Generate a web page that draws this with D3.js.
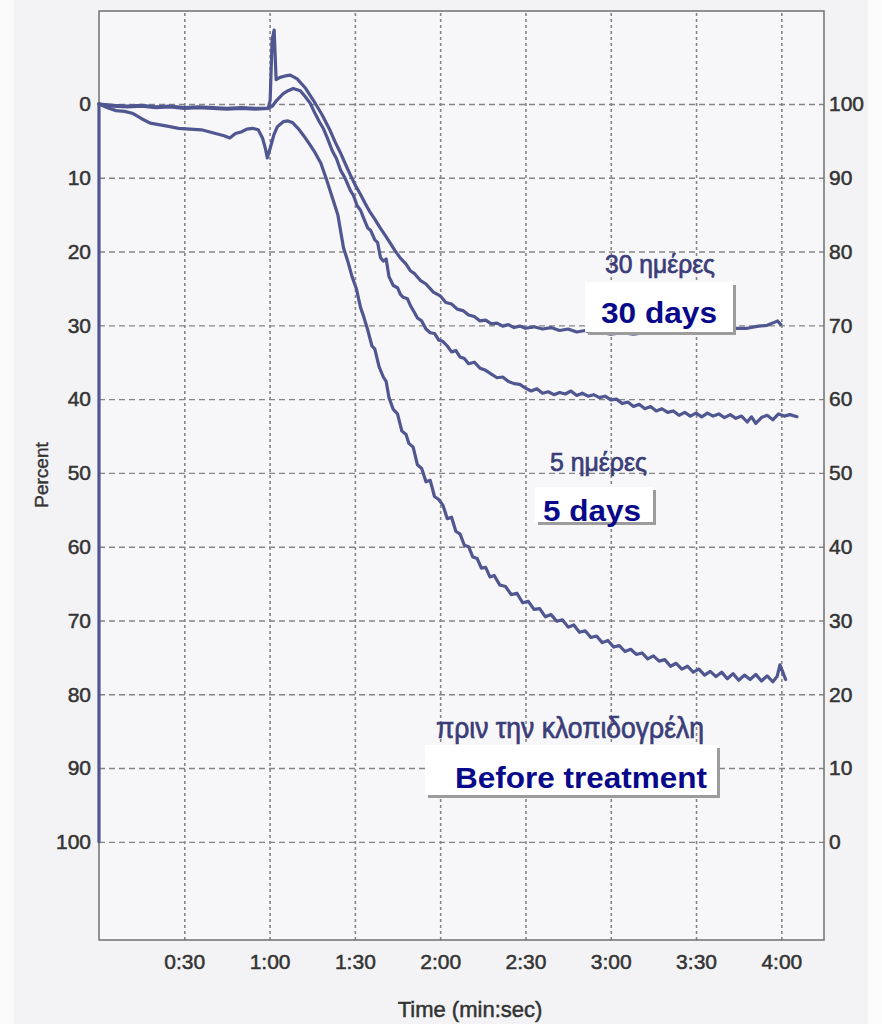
<!DOCTYPE html>
<html>
<head>
<meta charset="utf-8">
<script src="https://cdn.jsdelivr.net/npm/d3@7"></script>
<style>
  html, body { margin: 0; padding: 0; background: #f3f3f5; }
  svg { display: block; }
</style>
</head>
<body>
<svg id="chart" width="882" height="1024"></svg>
<script>
// Time ticks (seconds) and their labels
const timeTicks = [30, 60, 90, 120, 150, 180, 210, 240];
const timeTickLabels = ["0:30", "1:00", "1:30", "2:00", "2:30", "3:00", "3:30", "4:00"];
// Percent ticks (left axis) — right axis shows 100 minus these
const percentTicks = [0, 10, 20, 30, 40, 50, 60, 70, 80, 90, 100];

// Calibration stroke at start of recording: [seconds, percent]
const calibration = [[0, 0], [0, 100]];

// 30 days after treatment: [seconds, percent]
const days30 = [[0,0],[5,0.3],[10,0.4],[15,0.3],[20,0.5],[25,0.4],[30,0.6],[35,0.5],[40,0.6],[45,0.7],[50,0.6],[55,0.7],[59.5,0.6],[60.2,-0.5],[60.9,-8.7],[61.6,-10.0],[62.3,-3.3],[63.7,-3.6],[65.5,-3.8],[67.3,-3.9],[69.7,-3.4],[72.5,-2.2],[75.4,-0.5],[78.5,1.5],[81.3,3.6],[83,5.1],[84.9,6.6],[86.5,8.0],[88.4,9.6],[90,10.9],[91.9,12.2],[93.5,13.4],[95.4,14.7],[97,15.6],[98.9,16.8],[100.5,17.7],[102.5,18.9],[104,19.8],[106,20.9],[108,21.7],[109.5,22.6],[111,23.0],[113,23.9],[115,24.4],[117.6,25.5],[120,26.0],[122,26.9],[124,27.1],[126,27.8],[128,28.0],[130,28.6],[132,28.8],[134,29.4],[136,29.3],[138,29.8],[140,29.7],[142,30.1],[144,29.9],[146,30.3],[148,30.1],[150,30.4],[153,30.2],[156,30.5],[159,30.3],[162,30.7],[165,30.5],[168,30.9],[171,30.7],[174,31.1],[177,31.0],[180,31.2],[184,31.0],[188,31.2],[192,31.0],[196,31.1],[200,30.9],[204,31.1],[208,30.8],[212,30.9],[216,30.6],[220,30.7],[224,30.4],[228,30.4],[232,30.1],[235,30.0],[237.5,29.6],[238.7,29.4],[239.8,29.9]];

// 5 days after treatment: [seconds, percent]
const days5 = [[0,0],[5,0.2],[10,0.3],[15,0.2],[20,0.4],[25,0.3],[30,0.5],[35,0.4],[40,0.5],[45,0.6],[50,0.5],[55,0.6],[59.5,0.6],[61,0.3],[62.5,-0.5],[64.8,-1.4],[66.5,-1.8],[68.3,-2.1],[70.8,-1.8],[72.5,-1.0],[74.3,-0.1],[76,1.3],[77.5,2.4],[79,3.4],[80.3,4.6],[82,6.3],[83.5,7.4],[85,9.0],[86.5,10.0],[88.4,11.7],[89.5,12.4],[90.8,13.8],[92,14.4],[93,15.4],[94.5,16.8],[95.5,17.1],[97,18.4],[98,18.8],[99,20.8],[100,21.3],[101,21.0],[102,23.4],[103.5,24.6],[105,24.9],[106,25.8],[107,26.2],[108.5,26.4],[109.5,27.3],[111,28.3],[112,29.0],[113.5,29.4],[115,30.5],[116.5,31.0],[118,31.1],[119.5,32.0],[121,32.2],[122.5,32.8],[124,33.6],[125.5,33.4],[127,34.3],[128.5,34.5],[130,35.2],[132,35.0],[134,35.8],[136,36.1],[138,36.6],[140,37.1],[142,37.0],[144,37.6],[146,37.9],[148,38.0],[150,38.5],[152,38.9],[154,38.6],[156,39.2],[158,39.0],[160,39.4],[162,39.1],[164,39.3],[166,38.9],[168,39.5],[170,39.2],[172,39.6],[174,39.4],[176,39.8],[178,39.6],[180,40.1],[182,40.0],[184,40.6],[186,40.4],[188,41.0],[190,40.7],[192,41.3],[194,41.0],[196,41.6],[198,41.3],[200,41.8],[202,41.6],[204,42.2],[206,41.8],[208,42.3],[210,41.9],[212,42.4],[214,41.9],[216,42.3],[218,42.0],[220,42.5],[222,42.1],[224,42.6],[226,42.3],[228,43.1],[229.5,42.4],[231,43.3],[233,42.5],[235,42.2],[237,42.8],[239,42.0],[241,42.3],[243,42.1],[245.5,42.4]];

// Before treatment: [seconds, percent]
const beforeTreatment = [[0,0],[3,0.5],[6,0.9],[9,1.0],[12,1.3],[15,2.0],[18,2.6],[21,2.8],[24,3.0],[28,3.3],[32,3.4],[36,3.5],[40,3.9],[44,4.3],[46,4.6],[48,4.0],[50,3.8],[52,3.4],[54,3.3],[56,3.5],[57.5,4.6],[58.5,6.0],[59.2,7.3],[60.2,6.0],[61.5,4.2],[62.7,3.1],[64.8,2.4],[66.5,2.3],[68,2.5],[70,3.3],[72,4.3],[74,5.4],[76,6.6],[78,8.0],[80,10.2],[82,12.6],[84,15.0],[86,19.5],[87.5,21.3],[89,23.4],[90.5,25.0],[92,27.6],[93,28.7],[94.5,30.6],[96,32.8],[97,33.2],[98.5,35.6],[100,37.0],[101,37.6],[102,39.8],[103.5,41.4],[105,42.0],[106.5,44.3],[108,44.8],[109,46.0],[110.5,46.5],[112,48.9],[113.5,49.4],[115,51.2],[116.5,51.0],[118,53.2],[119.5,53.6],[121,54.4],[122.5,56.2],[124,56.0],[125.5,57.9],[127,58.3],[128.5,59.8],[130,60.0],[131.5,61.4],[133,61.6],[134.5,62.9],[136,62.8],[137.5,64.1],[139,63.9],[141,65.2],[143,65.4],[145,66.5],[147,66.3],[149,67.6],[151,67.4],[153,68.5],[155,68.4],[157,69.5],[159,69.2],[161,70.1],[163,69.9],[165,70.9],[167,70.6],[169,71.6],[171,71.4],[173,72.3],[175,72.1],[177,73.0],[179,72.7],[181,73.6],[183,73.4],[185,74.2],[187,73.9],[189,74.6],[191,74.4],[193,75.2],[195,74.8],[197,75.5],[199,75.3],[201,76.2],[203,75.8],[205,76.6],[207,76.2],[209,77.0],[211,76.6],[213,77.4],[215,76.9],[217,77.6],[219,77.0],[221,77.9],[223,77.2],[225,78.1],[227,77.4],[229,78.0],[231,77.3],[233,78.2],[235,77.5],[237,78.3],[238.5,77.6],[239.5,76.0],[240.5,77.0],[241.5,78.0]];

const series = [calibration, days30, days5, beforeTreatment];

// ---- layout ----
const plot = { left: 99, right: 824, top: 11, bottom: 940 };
const svg = d3.select("#chart");

const x = d3.scaleLinear().domain([0, 255]).range([plot.left, plot.right]);
const y = d3.scaleLinear().domain([-12.6, 113.3]).range([plot.top, plot.bottom]);
const yRight = d3.scaleLinear().domain([112.6, -13.3]).range([plot.top, plot.bottom]);

const gridColor = "#858585";
const textColor = "#333";
const traceColor = "#4f5690";

// background & plot area
svg.append("rect").attr("width", 882).attr("height", 1024).attr("fill", "#f3f3f5");
svg.append("rect").attr("x", 0).attr("y", 0).attr("width", 14).attr("height", 1024).attr("fill", "#fafafa");
svg.append("rect")
  .attr("x", plot.left).attr("y", plot.top)
  .attr("width", plot.right - plot.left).attr("height", plot.bottom - plot.top)
  .attr("fill", "#f7f7f9");

// horizontal grid
svg.append("g")
  .attr("transform", `translate(${plot.left},0)`)
  .call(d3.axisLeft(y).tickValues(percentTicks).tickSize(-(plot.right - plot.left)).tickFormat(""))
  .call(g => g.select(".domain").remove())
  .call(g => g.selectAll("line")
    .attr("stroke", gridColor).attr("stroke-width", 1.4).attr("stroke-dasharray", "6,4"));

// vertical grid
svg.append("g")
  .attr("transform", `translate(0,${plot.bottom})`)
  .call(d3.axisBottom(x).tickValues(timeTicks).tickSize(-(plot.bottom - plot.top)).tickFormat(""))
  .call(g => g.select(".domain").remove())
  .call(g => g.selectAll("line")
    .attr("stroke", gridColor).attr("stroke-width", 1.6).attr("stroke-dasharray", "3,3"));

// frame
svg.append("rect")
  .attr("x", plot.left).attr("y", plot.top)
  .attr("width", plot.right - plot.left).attr("height", plot.bottom - plot.top)
  .attr("fill", "none").attr("stroke", "#707070").attr("stroke-width", 1.5);

// axis labels
const tickFont = "'Liberation Sans', Arial, sans-serif";
function styleTicks(g) {
  g.select(".domain").remove();
  g.selectAll("line").remove();
  g.selectAll("text")
    .attr("fill", textColor)
    .attr("stroke", textColor)
    .attr("stroke-width", 0.5)
    .style("font-family", tickFont)
    .style("font-size", "21px");
}

svg.append("g")
  .attr("transform", `translate(${plot.left},0)`)
  .call(d3.axisLeft(y).tickValues(percentTicks).tickSize(0).tickPadding(8))
  .call(styleTicks);

svg.append("g")
  .attr("transform", `translate(${plot.right},0)`)
  .call(d3.axisRight(yRight).tickValues(percentTicks.map(v => 100 - v)).tickSize(0).tickPadding(5))
  .call(styleTicks);

svg.append("g")
  .attr("transform", `translate(0,${plot.bottom})`)
  .call(d3.axisBottom(x).tickValues(timeTicks).tickSize(0).tickPadding(14)
    .tickFormat((d, i) => timeTickLabels[i]))
  .call(styleTicks);

svg.append("text")
  .attr("transform", `translate(48,475) rotate(-90)`)
  .attr("text-anchor", "middle")
  .attr("fill", textColor)
  .attr("stroke", textColor)
  .attr("stroke-width", 0.4)
  .style("font-family", tickFont)
  .style("font-size", "19px")
  .text("Percent");

svg.append("text")
  .attr("x", 470).attr("y", 1017)
  .attr("text-anchor", "middle")
  .attr("fill", textColor)
  .attr("stroke", textColor)
  .attr("stroke-width", 0.5)
  .style("font-family", tickFont)
  .style("font-size", "22px")
  .text("Time (min:sec)");

// traces
const line = d3.line().x(d => x(d[0])).y(d => y(d[1]));
svg.append("g")
  .selectAll("path")
  .data(series)
  .join("path")
  .attr("d", line)
  .attr("fill", "none")
  .attr("stroke", traceColor)
  .attr("stroke-width", 3.2)
  .attr("stroke-linejoin", "round")
  .attr("stroke-linecap", "round");

// Greek captions
const greekColor = "#3a3d78";
const greek = [
  { text: "30 ημέρες", x: 605, y: 273, size: 25, len: 110 },
  { text: "5 ημέρες", x: 550, y: 471, size: 25, len: 97 },
  { text: "πριν την κλοπιδογρέλη", x: 436, y: 738, size: 29, len: 268 }
];
svg.append("g").selectAll("text")
  .data(greek)
  .join("text")
  .attr("x", d => d.x).attr("y", d => d.y)
  .attr("textLength", d => d.len)
  .attr("lengthAdjust", "spacingAndGlyphs")
  .attr("fill", greekColor)
  .attr("stroke", greekColor)
  .attr("stroke-width", 0.7)
  .style("font-family", tickFont)
  .style("font-size", d => d.size + "px")
  .text(d => d.text);

// English caption boxes
const boxes = [
  { text: "30 days", bx: 585, by: 282, bw: 148, bh: 50, tx: 601, ty: 323, len: 116 },
  { text: "5 days", bx: 535, by: 487, bw: 118, bh: 35, tx: 543, ty: 521, len: 98 },
  { text: "Before treatment", bx: 425, by: 745, bw: 292, bh: 50, tx: 455, ty: 788, len: 252 }
];
const bg = svg.append("g").selectAll("g").data(boxes).join("g");
bg.append("rect")
  .attr("x", d => d.bx + 3).attr("y", d => d.by + 3)
  .attr("width", d => d.bw).attr("height", d => d.bh)
  .attr("fill", "#9c9c9c");
bg.append("rect")
  .attr("x", d => d.bx).attr("y", d => d.by)
  .attr("width", d => d.bw).attr("height", d => d.bh)
  .attr("fill", "#ffffff");
bg.append("text")
  .attr("x", d => d.tx).attr("y", d => d.ty)
  .attr("textLength", d => d.len)
  .attr("lengthAdjust", "spacingAndGlyphs")
  .attr("fill", "#08088a")
  .style("font-family", tickFont)
  .style("font-weight", "bold")
  .style("font-size", "30px")
  .text(d => d.text);

// right margin strip
svg.append("rect").attr("x", 868).attr("y", 0).attr("width", 14).attr("height", 1024).attr("fill", "#fcfcfc");
</script>
</body>
</html>
